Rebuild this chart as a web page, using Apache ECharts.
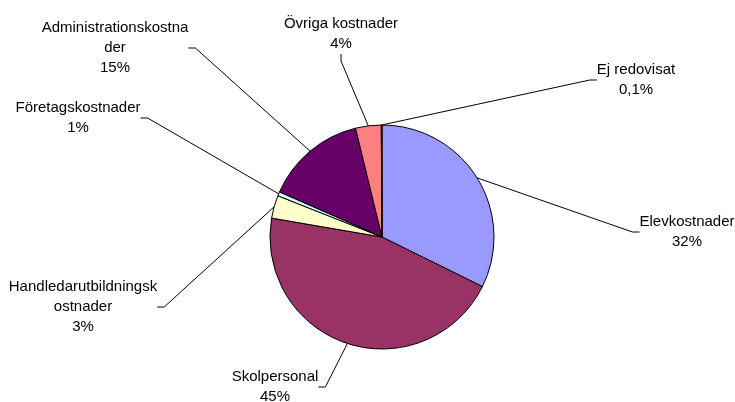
<!DOCTYPE html>
<html>
<head>
<meta charset="utf-8">
<script src="https://cdn.jsdelivr.net/npm/echarts@6/dist/echarts.min.js"></script>
<style>
  html, body { margin: 0; padding: 0; background: #ffffff; }
  #chart { width: 735px; height: 402px; }
</style>
</head>
<body>
<div id="chart"></div>
<script>
const categories = ["Elevkostnader", "Skolpersonal", "Handledarutbildningskostnader", "Företagskostnader", "Administrationskostnader", "Övriga kostnader", "Ej redovisat"];
const values = [32.3, 45.4, 3.3, 0.6, 14.6, 3.7, 0.1];
const percentLabels = ["32%", "45%", "3%", "1%", "15%", "4%", "0,1%"];
const colors = ["#9999FF", "#993366", "#FFFFCC", "#CCFFFF", "#660066", "#FF8080", "#0066CC"];

// where each label sits (centre x, top y)
const labelPos = [
    [687, 212],
    [275, 367],
    [83, 277],
    [78, 98],
    [115, 18],
    [341, 14],
    [636, 60]
];

const chart = echarts.init(document.getElementById("chart"));

const option = {
    animation: false,
    series: [
        {
            type: "pie",
            center: [382, 237],
            radius: 112,
            startAngle: 90,
            clockwise: true,
            avoidLabelOverlap: false,
            data: categories.map((name, i) => ({
                name: name,
                value: values[i],
                itemStyle: { color: colors[i] }
            })),
            itemStyle: {
                borderColor: "#000000",
                borderWidth: 1
            },
            label: {
                show: true,
                fontFamily: "Liberation Sans, Arial, sans-serif",
                fontSize: 15,
                lineHeight: 20,
                color: "#000000",
                align: "center",
                formatter: (p) => {
                    // wrap long names the way the original does
                    let name = p.name;
                    if (name.length > 21) {
                        name = name.slice(0, 21) + "\n" + name.slice(21);
                    }
                    return name + "\n" + percentLabels[p.dataIndex];
                }
            },
            labelLine: {
                show: true,
                length: 6,
                length2: 7,
                lineStyle: { color: "#000000", width: 1 }
            },
            labelLayout: (params) => {
                const pos = labelPos[params.dataIndex];
                return {
                    x: pos[0],
                    y: pos[1],
                    align: "center",
                    verticalAlign: "top"
                };
            }
        }
    ]
};

chart.setOption(option);
</script>
</body>
</html>
